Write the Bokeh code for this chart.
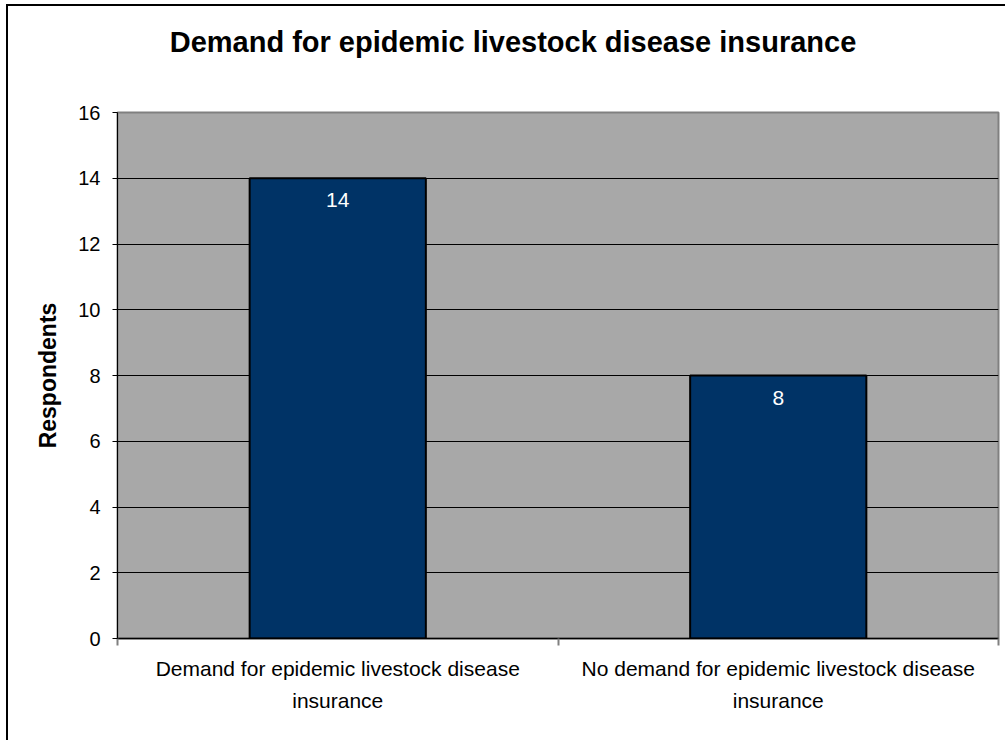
from bokeh.plotting import figure
from bokeh.models import (ColumnDataSource, LabelSet, FixedTicker, Range1d,
                          FactorRange, LinearAxis, Div)
from bokeh.layouts import column
from bokeh.core.properties import value
from bokeh.embed import file_html
from bokeh.resources import INLINE

title_text = "Demand for epidemic livestock disease insurance"
categories = ["Demand for epidemic livestock disease\ninsurance",
              "No demand for epidemic livestock disease\ninsurance"]
respondents = [14, 8]
value_labels = ["14", "8"]
y_ticks = [0, 2, 4, 6, 8, 10, 12, 14, 16]
category_bounds = [0, 1, 2]

src = ColumnDataSource(dict(cat=categories, val=respondents, lab=value_labels))

FONT = "Liberation Sans"

title_div = Div(
    text=('<div style="font-family: \'Liberation Sans\'; font-size: 29px; font-weight: bold; '
          'color: black; text-align: center; line-height: 1.15; margin-top: 20px; '
          'padding-left: 13px; box-sizing: border-box; width: 997px; '
          'white-space: nowrap;">' + title_text + '</div>'),
    width=997, height=86, margin=0)

p = figure(x_range=FactorRange(*categories), y_range=Range1d(0, 16),
           width=997, height=648, output_backend="svg", toolbar_location=None,
           min_border_left=109, min_border_right=7, min_border_top=20, min_border_bottom=102)

p.background_fill_color = "#A8A8A8"
p.border_fill_color = "white"
p.outline_line_color = "#808080"
p.outline_line_width = 2

p.vbar(x="cat", top="val", width=0.4, source=src, fill_color="#003366",
       line_color="black", line_width=2)

labels = LabelSet(x="cat", y="val", text="lab", source=src, text_color="white",
                  text_font=value(FONT), text_font_size="21px", text_align="center",
                  text_baseline="middle", y_offset=-22)
p.add_layout(labels)

p.yaxis.ticker = FixedTicker(ticks=y_ticks)
p.yaxis.axis_label = "Respondents"
p.yaxis.axis_label_text_font = FONT
p.yaxis.axis_label_text_font_size = "23px"
p.yaxis.axis_label_text_font_style = "bold"
p.yaxis.axis_label_text_color = "black"
p.yaxis.axis_label_standoff = 14
p.yaxis.major_label_text_font = FONT
p.yaxis.major_label_text_font_size = "20px"
p.yaxis.major_label_text_color = "black"
p.yaxis.major_tick_out = 5
p.yaxis.major_tick_in = 0
p.yaxis.major_tick_line_color = "black"
p.yaxis.minor_tick_line_color = None
p.yaxis.major_label_standoff = 12
p.yaxis.axis_line_color = "black"

# category axis (labels only)
cat_axis = p.xaxis[0]
cat_axis.major_label_text_font = FONT
cat_axis.major_label_text_font_size = "21px"
cat_axis.major_label_text_line_height = 1.4
cat_axis.major_label_text_color = "black"
cat_axis.major_tick_line_color = None
cat_axis.major_label_standoff = 5
cat_axis.axis_line_color = None

# boundary tick axis (ticks between categories, no labels)
tick_axis = LinearAxis(ticker=FixedTicker(ticks=category_bounds))
tick_axis.major_label_text_font_size = "1px"
tick_axis.major_label_text_color = None
tick_axis.major_label_standoff = 0
tick_axis.major_tick_out = 7
tick_axis.major_tick_in = 0
tick_axis.major_tick_line_color = "#808080"
tick_axis.major_tick_line_width = 2
tick_axis.minor_tick_line_color = None
tick_axis.axis_line_color = "black"
tick_axis.axis_line_width = 1.5
p.below = [tick_axis, cat_axis]

p.xgrid.grid_line_color = None
p.ygrid.grid_line_color = "black"
p.ygrid.grid_line_width = 1
p.ygrid.ticker = FixedTicker(ticks=y_ticks)

layout = column(title_div, p, spacing=0)
layout.styles = {"border-left": "2px solid black", "border-top": "2px solid black",
                 "margin-left": "6px", "margin-top": "4px"}

open("out.html", "w").write(file_html(layout, INLINE))
